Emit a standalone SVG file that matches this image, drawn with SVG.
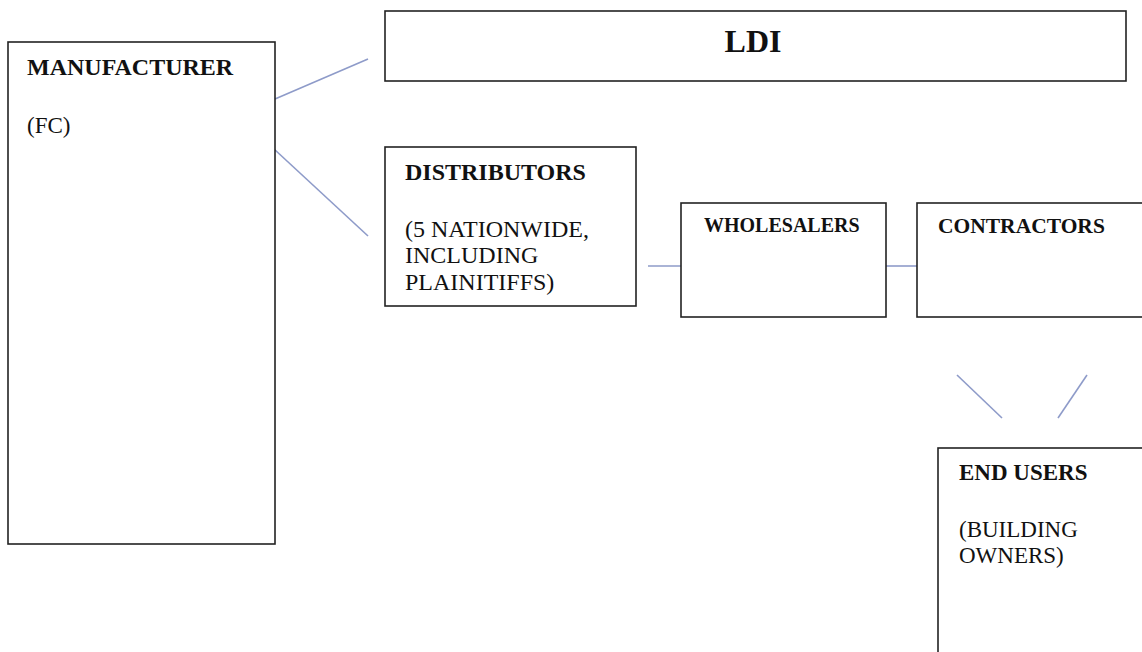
<svg xmlns="http://www.w3.org/2000/svg" width="1142" height="652" viewBox="0 0 1142 652">
<style>
.box{fill:#fff;stroke:#222;stroke-width:1.6}
.b{font-family:"Liberation Serif","Times New Roman",serif;font-weight:bold;fill:#111}
.r{font-family:"Liberation Serif","Times New Roman",serif;fill:#111}
.c{stroke:#8e9bc9;stroke-width:1.6;fill:none}
</style>
<rect width="1142" height="652" fill="#fff"/>
<g id="connectors">
<line class="c" x1="275" y1="99" x2="368" y2="59"/>
<line class="c" x1="274" y1="149" x2="368" y2="236"/>
<line class="c" x1="648" y1="266" x2="681" y2="266"/>
<line class="c" x1="886" y1="266" x2="917" y2="266"/>
<line class="c" x1="957" y1="375" x2="1002" y2="418"/>
<line class="c" x1="1087" y1="375" x2="1058" y2="418"/>
</g>
<g id="manufacturer">
<rect class="box" x="8" y="42" width="267" height="502"/>
<text class="b" x="27" y="75" font-size="24">MANUFACTURER</text>
<text class="r" x="27" y="133" font-size="23">(FC)</text>
</g>
<g id="ldi">
<rect class="box" x="385" y="11" width="741" height="70"/>
<text class="b" x="753" y="52" font-size="32" text-anchor="middle">LDI</text>
</g>
<g id="distributors">
<rect class="box" x="385" y="147" width="251" height="159"/>
<text class="b" x="405" y="180" font-size="24">DISTRIBUTORS</text>
<text class="r" x="405" y="237" font-size="24">(5 NATIONWIDE,</text>
<text class="r" x="405" y="263" font-size="24">INCLUDING</text>
<text class="r" x="405" y="290" font-size="24">PLAINITIFFS)</text>
</g>
<g id="wholesalers">
<rect class="box" x="681" y="203" width="205" height="114"/>
<text class="b" x="704" y="232" font-size="20">WHOLESALERS</text>
</g>
<g id="contractors">
<rect class="box" x="917" y="203" width="240" height="114"/>
<text class="b" x="938" y="233" font-size="21.5">CONTRACTORS</text>
</g>
<g id="end-users">
<rect class="box" x="938" y="448" width="220" height="220"/>
<text class="b" x="959" y="480" font-size="23">END USERS</text>
<text class="r" x="959" y="537" font-size="23">(BUILDING</text>
<text class="r" x="959" y="563" font-size="23">OWNERS)</text>
</g>
</svg>
